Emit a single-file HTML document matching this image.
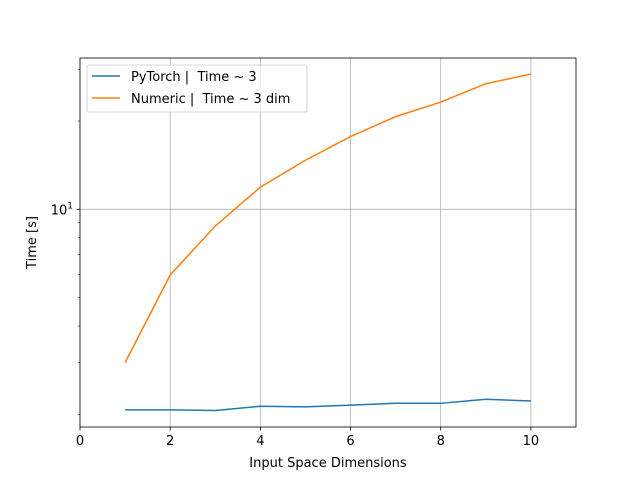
<!DOCTYPE html>
<html><head><meta charset="utf-8"><style>body{margin:0;background:#fff}svg{display:block;font-family:"DejaVu Sans","Liberation Sans",sans-serif}</style></head>
<body>
<svg id="chart" width="640" height="480" xmlns="http://www.w3.org/2000/svg"></svg>
<script>
const xValues=[1,2,3,4,5,6,7,8,9,10];
const pytorchTimes=[2.07,2.07,2.06,2.13,2.12,2.15,2.18,2.18,2.25,2.22];
const numericTimes=[3.0,5.97,8.77,11.9,14.7,17.7,20.7,23.2,26.8,28.9];
const xTicks=[0,2,4,6,8,10];
const minorY=[2,3,4,5,6,7,8,9,20,30];
const L=80,R=576,T=58,B=427,xMin=0,xMax=11,yMin=1.81,yMax=32.8;
const sx=v=>L+(v-xMin)/(xMax-xMin)*(R-L);
const sy=v=>B-(Math.log10(v)-Math.log10(yMin))/(Math.log10(yMax)-Math.log10(yMin))*(B-T);
const svg=document.getElementById('chart');const NS='http://www.w3.org/2000/svg';
function mk(t,a,txt){const e=document.createElementNS(NS,t);for(const k in a)e.setAttribute(k,a[k]);if(txt!==undefined)e.textContent=txt;svg.appendChild(e);return e;}
xTicks.forEach(v=>{const g=mk('line',{x1:sx(v),x2:sx(v),y1:T,y2:B,stroke:'#b0b0b0','stroke-width':0.8});

});
let gy=mk('line',{x1:L,x2:R,y1:sy(10),y2:sy(10),stroke:'#b0b0b0','stroke-width':0.8});


function series(vals,color,name){const p=mk('polyline',{points:xValues.map((x,i)=>sx(x)+','+sy(vals[i])).join(' '),fill:'none',stroke:color,'stroke-width':1.5});

}
series(pytorchTimes,'#1f77b4','pytorch-line');
series(numericTimes,'#ff7f0e','numeric-line');
const fr=mk('rect',{x:L,y:T,width:R-L,height:B-T,fill:'none',stroke:'#000','stroke-width':0.8});


xTicks.forEach(v=>{mk('line',{x1:sx(v),x2:sx(v),y1:B,y2:B+3.5,stroke:'#000','stroke-width':0.8});
const t=mk('text',{x:sx(v),y:B+18,'font-size':13,'text-anchor':'middle'},v);

});
minorY.forEach(v=>{mk('line',{x1:L-2,x2:L,y1:sy(v),y2:sy(v),stroke:'#000','stroke-width':0.6});});
mk('line',{x1:L-3.5,x2:L,y1:sy(10),y2:sy(10),stroke:'#000','stroke-width':0.8});
const yl=mk('text',{x:L-7,y:sy(10)+5,'font-size':13,'text-anchor':'end'});


yl.innerHTML='10<tspan dy="-6" font-size="9">1</tspan>';
const xt=mk('text',{x:(L+R)/2,y:467,'font-size':13,'text-anchor':'middle'},'Input Space Dimensions');


const yt=mk('text',{x:36,y:(T+B)/2,'font-size':13,'text-anchor':'middle',transform:'rotate(-90 36 '+(T+B)/2+')'},'Time [s]');


const lg=mk('rect',{x:87,y:65,width:220,height:47,rx:2,fill:'#fff','fill-opacity':0.8,stroke:'#ccc','stroke-width':0.8});


[['PyTorch |  Time ~ 3','#1f77b4',76],['Numeric |  Time ~ 3 dim','#ff7f0e',98]].forEach(([s,c,y])=>{
mk('line',{x1:92,x2:120,y1:y,y2:y,stroke:c,'stroke-width':1.5});
const t=mk('text',{x:131,y:y+5,'font-size':13,'xml:space':'preserve'},s);


t.style.whiteSpace='pre';});
</script>
</body></html>
